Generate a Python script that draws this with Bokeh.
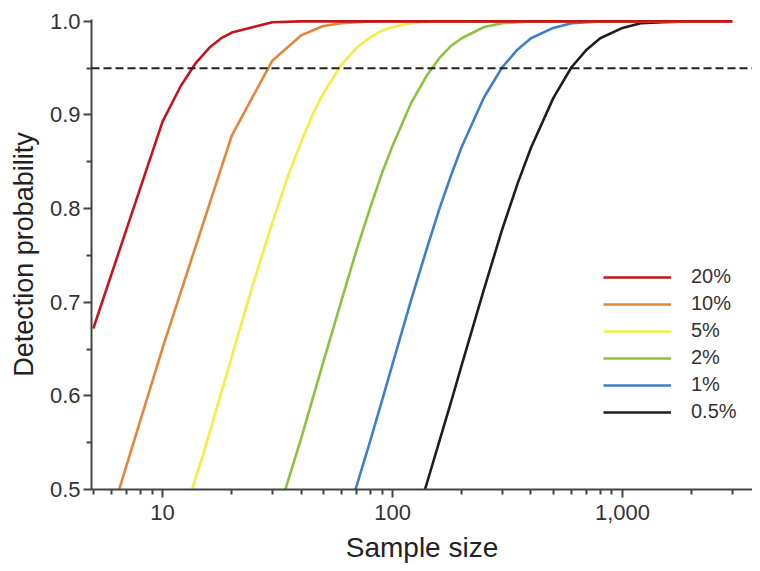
from bokeh.plotting import figure
from bokeh.models import (FixedTicker, NumeralTickFormatter, Span, Legend, LegendItem, Range1d)
from bokeh.embed import file_html
from bokeh.resources import INLINE

# ---- data ----
n_20 = [5, 10, 12, 14, 16, 18, 20, 30, 40, 50, 3000]
p_20 = [0.672, 0.893, 0.931, 0.956, 0.972, 0.982, 0.988, 0.999, 1.0, 1.0, 1.0]

n_10 = [5, 10, 20, 30, 40, 50, 60, 80, 3000]
p_10 = [0.410, 0.651, 0.878, 0.958, 0.985, 0.995, 0.998, 1.0, 1.0]

n_5 = [10, 15, 20, 25, 30, 35, 40, 45, 50, 60, 70, 80, 90, 100, 120, 150, 3000]
p_5 = [0.401, 0.537, 0.642, 0.723, 0.785, 0.834, 0.871, 0.901, 0.923, 0.954,
       0.972, 0.983, 0.990, 0.994, 0.998, 1.0, 1.0]

n_2 = [30, 40, 50, 60, 70, 80, 90, 100, 120, 140, 160, 180, 200, 250, 300, 400, 3000]
p_2 = [0.455, 0.554, 0.636, 0.702, 0.757, 0.801, 0.838, 0.867, 0.912, 0.941,
       0.961, 0.974, 0.982, 0.994, 0.998, 1.0, 1.0]

n_1 = [60, 70, 80, 90, 100, 120, 140, 160, 180, 200, 250, 300, 350, 400, 500, 600, 800, 3000]
p_1 = [0.453, 0.505, 0.552, 0.595, 0.634, 0.701, 0.755, 0.800, 0.836, 0.866,
       0.919, 0.951, 0.970, 0.982, 0.993, 0.998, 1.0, 1.0]

n_05 = [120, 140, 160, 180, 200, 250, 300, 350, 400, 500, 600, 700, 800, 1000, 1200, 1500, 2000, 3000]
p_05 = [0.452, 0.504, 0.552, 0.594, 0.633, 0.714, 0.778, 0.827, 0.865, 0.918,
        0.951, 0.970, 0.982, 0.993, 0.998, 0.999, 1.0, 1.0]

series_labels = ["20%", "10%", "5%", "2%", "1%", "0.5%"]
series_n = [n_20, n_10, n_5, n_2, n_1, n_05]
series_p = [p_20, p_10, p_5, p_2, p_1, p_05]
series_colors = ["#c2161e", "#e2863a", "#f2ee42", "#8cc23f", "#3d7fc9", "#1e1e1e"]

threshold = 0.95
x_major = [10, 100, 1000]
x_minor = [5, 6, 7, 8, 9, 20, 30, 40, 50, 60, 70, 80, 90,
           200, 300, 400, 500, 600, 700, 800, 900, 2000, 3000]
y_major = [0.5, 0.6, 0.7, 0.8, 0.9, 1.0]
y_minor = [0.55, 0.65, 0.75, 0.85, 0.95]

FONT = "Liberation Sans"

p = figure(width=752, height=569, x_axis_type="log",
           x_range=Range1d(4.91, 3675), y_range=Range1d(0.5, 1.002),
           output_backend="svg", toolbar_location=None,
           min_border_left=91, min_border_right=0, min_border_top=19, min_border_bottom=80)
p.outline_line_color = None
p.xgrid.visible = False
p.ygrid.visible = False
p.background_fill_color = "white"
p.border_fill_color = "white"

renderers = {}
for lab, xs, ys, col in reversed(list(zip(series_labels, series_n, series_p, series_colors))):
    r = p.line(xs, ys, line_color=col, line_width=2.6)
    renderers[lab] = r

p.add_layout(Span(location=threshold, dimension="width", line_color="#222222",
                  line_width=2, line_dash="8 4"))

legend = Legend(items=[LegendItem(label=l, renderers=[renderers[l]]) for l in series_labels],
                location=(512, 66), glyph_width=68, glyph_height=20, label_height=20,
                label_standoff=20, spacing=4, padding=0, margin=0,
                border_line_color=None, background_fill_alpha=0,
                label_text_font=FONT, label_text_font_size="20px", label_text_color="#333333")
p.add_layout(legend, "center")

for ax in (p.xaxis[0], p.yaxis[0]):
    ax.axis_line_color = "#444444"
    ax.axis_line_width = 2
    ax.major_tick_line_color = "#444444"
    ax.minor_tick_line_color = "#444444"
    ax.major_tick_line_width = 2
    ax.minor_tick_line_width = 2
    ax.major_tick_in = 0
    ax.major_tick_out = 8
    ax.minor_tick_in = 0
    ax.minor_tick_out = 5
    ax.major_label_text_font = FONT
    ax.major_label_text_font_size = "22px"
    ax.major_label_text_color = "#333333"
    ax.axis_label_text_font = FONT
    ax.axis_label_text_font_style = "normal"
    ax.axis_label_text_color = "#222222"

p.xaxis.ticker = FixedTicker(ticks=x_major, minor_ticks=x_minor)
p.xaxis.formatter = NumeralTickFormatter(format="0,0")
p.xaxis.axis_label = "Sample size"
p.xaxis.axis_label_text_font_size = "28px"
p.xaxis.major_label_standoff = 7
p.xaxis.axis_label_standoff = 9

p.yaxis.ticker = FixedTicker(ticks=y_major, minor_ticks=y_minor)
p.yaxis.formatter = NumeralTickFormatter(format="0.0")
p.yaxis.axis_label = "Detection probability"
p.yaxis.axis_label_text_font_size = "27px"
p.yaxis.major_label_standoff = 3
p.yaxis.axis_label_standoff = 8

open("out.html", "w").write(file_html(p, INLINE))
